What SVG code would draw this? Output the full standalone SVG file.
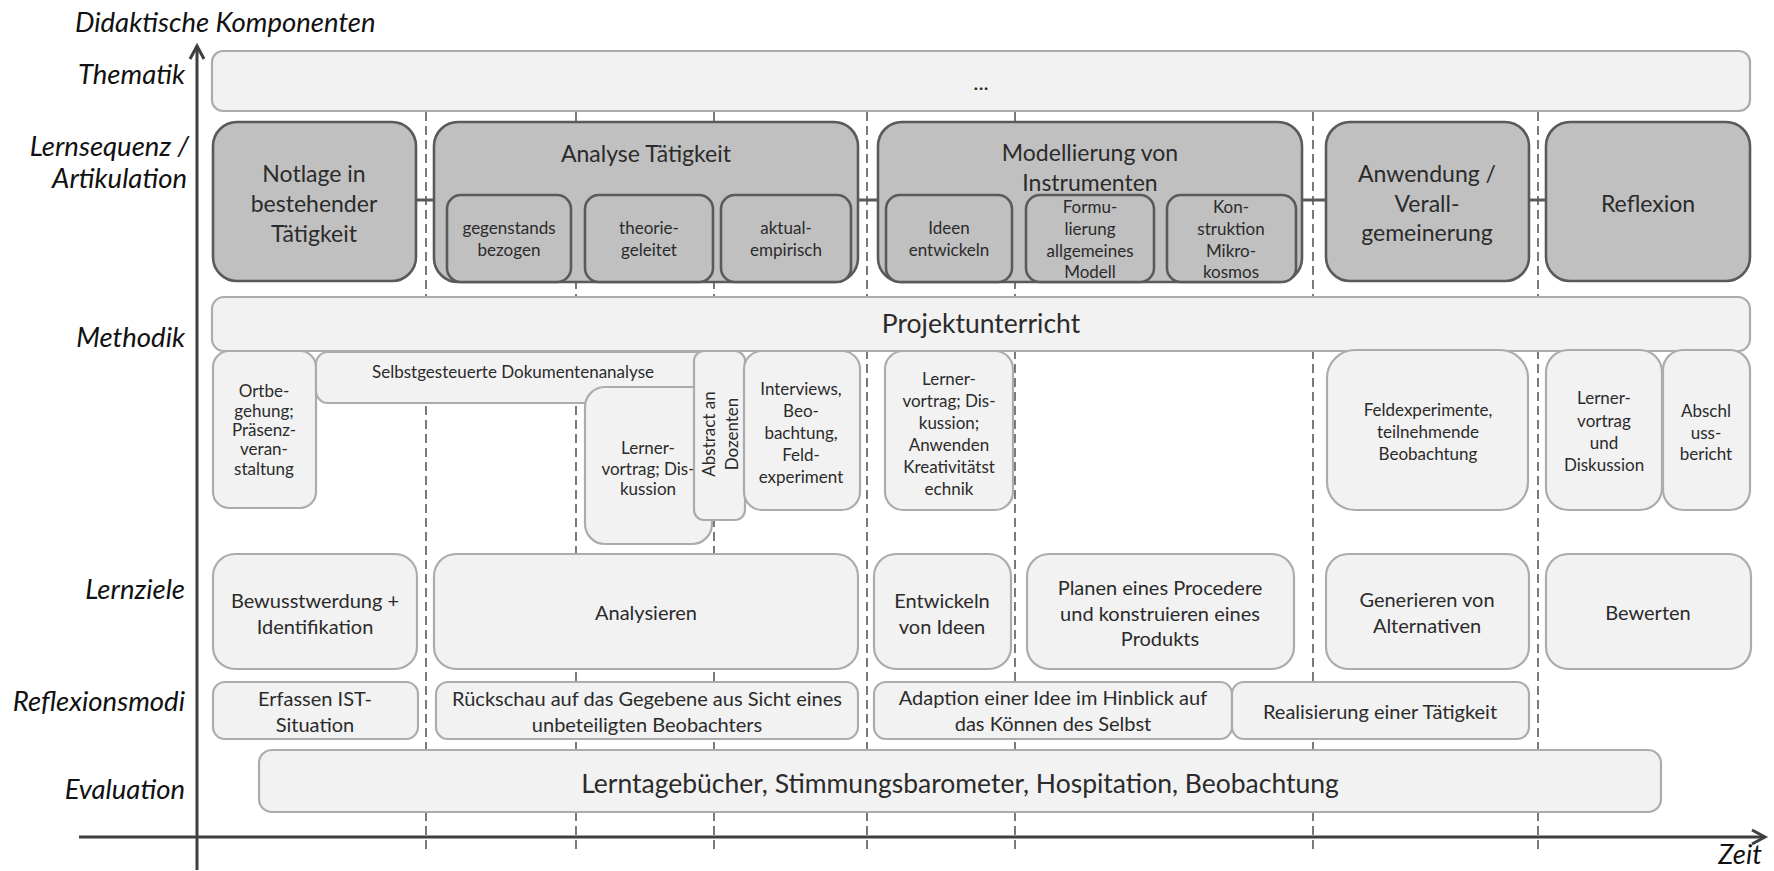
<svg xmlns="http://www.w3.org/2000/svg" width="1774" height="871" viewBox="0 0 1774 871">
<defs>
<style>
text{font-family:Lato,"Liberation Sans",sans-serif;fill:#2b2b2b;text-anchor:middle;dominant-baseline:central}
.lab{font-style:italic;font-size:27.5px;fill:#111;text-anchor:end}
.big{fill:#c0c0c0;stroke:#5a5a5a;stroke-width:2.6}
.lt{fill:#f2f2f2;stroke:#acacac;stroke-width:2.2}
.guide{stroke:#595959;stroke-width:1.6;stroke-dasharray:9 5;fill:none}
.conn{stroke:#595959;stroke-width:3;fill:none}
.axis{stroke:#3f3f3f;stroke-width:3;fill:none}
.t23{font-size:23px}
.t17{font-size:17px}
.t19{font-size:20px}
.t26{font-size:26.5px}
</style>
</defs>
<rect width="1774" height="871" fill="#ffffff"/>

<g id="guides">
<line class="guide" x1="426" y1="112" x2="426" y2="854"/>
<line class="guide" x1="576" y1="112" x2="576" y2="854"/>
<line class="guide" x1="714" y1="112" x2="714" y2="854"/>
<line class="guide" x1="867" y1="112" x2="867" y2="854"/>
<line class="guide" x1="1015" y1="112" x2="1015" y2="854"/>
<line class="guide" x1="1313" y1="112" x2="1313" y2="854"/>
<line class="guide" x1="1538" y1="112" x2="1538" y2="854"/>
</g>

<g id="thematik">
<rect class="lt" x="212" y="51" width="1538" height="60" rx="11"/>
<text x="981" y="81" style="font-size:22px">...</text>
</g>

<g id="connectors">
<line class="conn" x1="416" y1="200" x2="434" y2="200"/>
<line class="conn" x1="858" y1="200" x2="878" y2="200"/>
<line class="conn" x1="1302" y1="200" x2="1326" y2="200"/>
<line class="conn" x1="1529" y1="200" x2="1546" y2="200"/>
</g>

<g id="notlage">
<rect class="big" x="213" y="122" width="203" height="159" rx="24"/>
<text class="t23" x="314" y="173">Notlage in</text>
<text class="t23" x="314" y="203">bestehender</text>
<text class="t23" x="314" y="233">Tätigkeit</text>
</g>

<g id="analyse">
<rect class="big" x="434" y="122" width="424" height="160" rx="24"/>
<text class="t23" x="646" y="153">Analyse Tätigkeit</text>
<g id="gegenstands">
<rect class="big" x="447" y="195" width="124" height="87" rx="14"/>
<text class="t17" x="509" y="227">gegenstands</text>
<text class="t17" x="509" y="249">bezogen</text>
</g>
<g id="theorie">
<rect class="big" x="585" y="195" width="128" height="87" rx="14"/>
<text class="t17" x="649" y="227">theorie-</text>
<text class="t17" x="649" y="249">geleitet</text>
</g>
<g id="aktual">
<rect class="big" x="721" y="195" width="130" height="87" rx="14"/>
<text class="t17" x="786" y="227">aktual-</text>
<text class="t17" x="786" y="249">empirisch</text>
</g>
</g>

<g id="modellierung">
<rect class="big" x="878" y="122" width="424" height="160" rx="24"/>
<text class="t23" x="1090" y="152">Modellierung von</text>
<text class="t23" x="1090" y="182">Instrumenten</text>
<g id="ideen">
<rect class="big" x="886" y="195" width="126" height="87" rx="14"/>
<text class="t17" x="949" y="227">Ideen</text>
<text class="t17" x="949" y="249">entwickeln</text>
</g>
<g id="formulierung">
<rect class="big" x="1026" y="195" width="128" height="87" rx="14"/>
<text class="t17" x="1090" y="206">Formu-</text>
<text class="t17" x="1090" y="228">lierung</text>
<text class="t17" x="1090" y="250">allgemeines</text>
<text class="t17" x="1090" y="271">Modell</text>
</g>
<g id="konstruktion">
<rect class="big" x="1167" y="195" width="129" height="87" rx="14"/>
<text class="t17" x="1231" y="206">Kon-</text>
<text class="t17" x="1231" y="228">struktion</text>
<text class="t17" x="1231" y="250">Mikro-</text>
<text class="t17" x="1231" y="271">kosmos</text>
</g>
</g>

<g id="anwendung">
<rect class="big" x="1326" y="122" width="203" height="159" rx="24"/>
<text class="t23" x="1427" y="173">Anwendung /</text>
<text class="t23" x="1427" y="203">Verall-</text>
<text class="t23" x="1427" y="232">gemeinerung</text>
</g>

<g id="reflexion">
<rect class="big" x="1546" y="122" width="204" height="159" rx="24"/>
<text class="t23" x="1648" y="203">Reflexion</text>
</g>

<g id="projektunterricht">
<rect class="lt" x="212" y="297" width="1538" height="54" rx="12"/>
<text class="t26" x="981" y="323">Projektunterricht</text>
</g>

<g id="ortbegehung">
<rect class="lt" x="213" y="351" width="103" height="157" rx="16"/>
<text class="t17" x="264" y="390">Ortbe-</text>
<text class="t17" x="264" y="410">gehung;</text>
<text class="t17" x="264" y="429">Präsenz-</text>
<text class="t17" x="264" y="448">veran-</text>
<text class="t17" x="264" y="468">staltung</text>
</g>

<g id="dokumentenanalyse">
<rect class="lt" x="316" y="352" width="394" height="51" rx="12"/>
<text class="t17" x="513" y="371">Selbstgesteuerte Dokumentenanalyse</text>
</g>

<g id="lernervortrag1">
<rect class="lt" x="585" y="387" width="127" height="157" rx="20"/>
<text class="t17" x="648" y="447">Lerner-</text>
<text class="t17" x="648" y="468">vortrag; Dis-</text>
<text class="t17" x="648" y="488">kussion</text>
</g>

<g id="abstract">
<rect class="lt" x="694" y="351" width="51" height="169" rx="10"/>
<text class="t17" transform="translate(720,434) rotate(-90)"><tspan x="0" y="-12">Abstract an</tspan><tspan x="0" y="11">Dozenten</tspan></text>
</g>

<g id="interviews">
<rect class="lt" x="744" y="351" width="116" height="159" rx="18"/>
<text class="t17" x="801" y="388">Interviews,</text>
<text class="t17" x="801" y="410">Beo-</text>
<text class="t17" x="801" y="432">bachtung,</text>
<text class="t17" x="801" y="454">Feld-</text>
<text class="t17" x="801" y="476">experiment</text>
</g>

<g id="lernervortrag2">
<rect class="lt" x="885" y="351" width="128" height="159" rx="18"/>
<text class="t17" x="949" y="378">Lerner-</text>
<text class="t17" x="949" y="400">vortrag; Dis-</text>
<text class="t17" x="949" y="422">kussion;</text>
<text class="t17" x="949" y="444">Anwenden</text>
<text class="t17" x="949" y="466">Kreativitätst</text>
<text class="t17" x="949" y="488">echnik</text>
</g>

<g id="feldexperimente">
<rect class="lt" x="1327" y="350" width="201" height="160" rx="28"/>
<text class="t17" x="1428" y="409">Feldexperimente,</text>
<text class="t17" x="1428" y="431">teilnehmende</text>
<text class="t17" x="1428" y="453">Beobachtung</text>
</g>

<g id="lernervortrag3">
<rect class="lt" x="1546" y="350" width="116" height="160" rx="22"/>
<text class="t17" x="1604" y="397">Lerner-</text>
<text class="t17" x="1604" y="420">vortrag</text>
<text class="t17" x="1604" y="442">und</text>
<text class="t17" x="1604" y="464">Diskussion</text>
</g>

<g id="abschlussbericht">
<rect class="lt" x="1663" y="350" width="87" height="160" rx="20"/>
<text class="t17" x="1706" y="410">Abschl</text>
<text class="t17" x="1706" y="432">uss-</text>
<text class="t17" x="1706" y="453">bericht</text>
</g>

<g id="bewusstwerdung">
<rect class="lt" x="213" y="554" width="204" height="115" rx="22"/>
<text class="t19" x="315" y="600">Bewusstwerdung +</text>
<text class="t19" x="315" y="626">Identifikation</text>
</g>
<g id="analysieren">
<rect class="lt" x="434" y="554" width="424" height="115" rx="22"/>
<text class="t19" x="646" y="612">Analysieren</text>
</g>
<g id="entwickeln">
<rect class="lt" x="874" y="554" width="137" height="115" rx="22"/>
<text class="t19" x="942" y="600">Entwickeln</text>
<text class="t19" x="942" y="626">von Ideen</text>
</g>
<g id="planen">
<rect class="lt" x="1027" y="554" width="267" height="115" rx="22"/>
<text class="t19" x="1160" y="587">Planen eines Procedere</text>
<text class="t19" x="1160" y="613">und konstruieren eines</text>
<text class="t19" x="1160" y="638">Produkts</text>
</g>
<g id="generieren">
<rect class="lt" x="1326" y="554" width="203" height="115" rx="22"/>
<text class="t19" x="1427" y="599">Generieren von</text>
<text class="t19" x="1427" y="625">Alternativen</text>
</g>
<g id="bewerten">
<rect class="lt" x="1546" y="554" width="205" height="115" rx="22"/>
<text class="t19" x="1648" y="612">Bewerten</text>
</g>

<g id="erfassen">
<rect class="lt" x="213" y="682" width="205" height="57" rx="12"/>
<text class="t19" x="315" y="698">Erfassen IST-</text>
<text class="t19" x="315" y="724">Situation</text>
</g>
<g id="rueckschau">
<rect class="lt" x="436" y="682" width="422" height="57" rx="12"/>
<text class="t19" x="647" y="698">Rückschau auf das Gegebene aus Sicht eines</text>
<text class="t19" x="647" y="724">unbeteiligten Beobachters</text>
</g>
<g id="adaption">
<rect class="lt" x="874" y="682" width="358" height="57" rx="12"/>
<text class="t19" x="1053" y="697">Adaption einer Idee im Hinblick auf</text>
<text class="t19" x="1053" y="723">das Können des Selbst</text>
</g>
<g id="realisierung">
<rect class="lt" x="1232" y="682" width="297" height="57" rx="12"/>
<text class="t19" x="1380" y="711">Realisierung einer Tätigkeit</text>
</g>

<g id="evaluation">
<rect class="lt" x="259" y="750" width="1402" height="62" rx="13"/>
<text class="t26" x="960" y="783">Lerntagebücher, Stimmungsbarometer, Hospitation, Beobachtung</text>
</g>

<g id="axes">
<line class="axis" x1="197" y1="870" x2="197" y2="46"/>
<polyline class="axis" points="190,59 197,46 204,59"/>
<line class="axis" x1="79" y1="837" x2="1765" y2="837"/>
<polyline class="axis" points="1752,830 1765,837 1752,844"/>
</g>

<g id="labels">
<text class="lab" x="75" y="21" style="text-anchor:start">Didaktische Komponenten</text>
<text class="lab" x="185" y="73">Thematik</text>
<text class="lab" x="189" y="145">Lernsequenz /</text>
<text class="lab" x="187" y="177">Artikulation</text>
<text class="lab" x="185" y="336">Methodik</text>
<text class="lab" x="185" y="588">Lernziele</text>
<text class="lab" x="185" y="700">Reflexionsmodi</text>
<text class="lab" x="185" y="788">Evaluation</text>
<text class="lab" x="1762" y="853">Zeit</text>
</g>
</svg>
